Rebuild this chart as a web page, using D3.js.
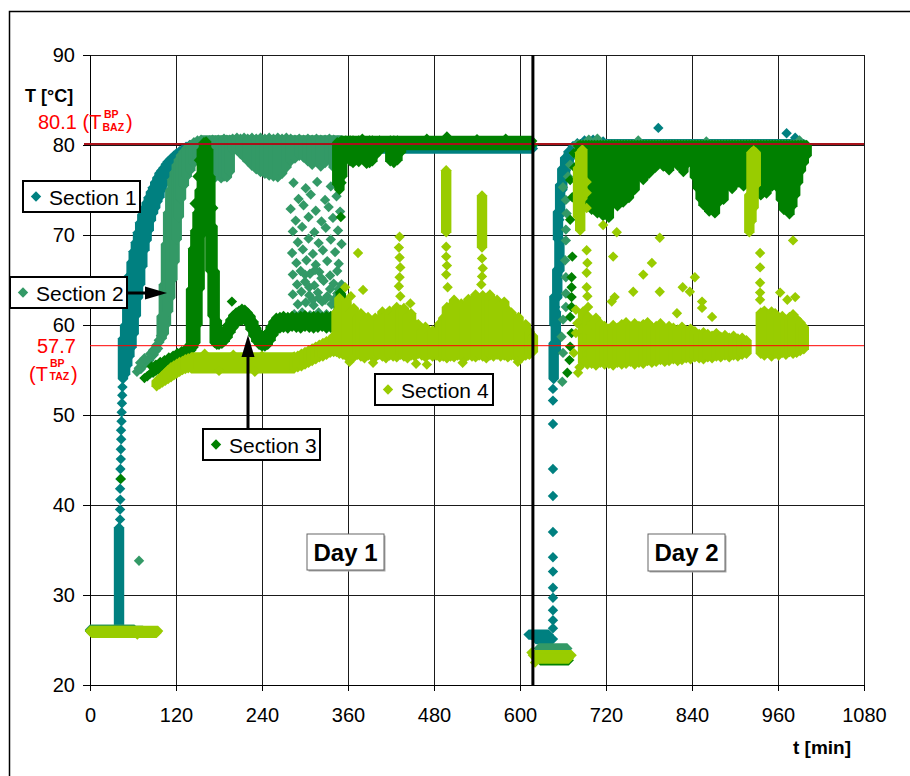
<!DOCTYPE html>
<html><head><meta charset="utf-8">
<script src="https://cdn.jsdelivr.net/npm/d3@7"></script>
<style>
body{margin:0;background:#fff}
svg{display:block}
text{font-family:"Liberation Sans",Arial,sans-serif}
</style>
</head><body>
<svg id="chart" width="910" height="776"></svg>
<script>
// ---- axis ticks ----
const xTicks = [0, 120, 240, 360, 480, 600, 720, 840, 960, 1080];
const yTicks = [20, 30, 40, 50, 60, 70, 80, 90];

// ---- reference temperatures (boiling points) ----
const refValues = [80.1, 57.7];
const dayBoundary = 618; // min, end of day 1 run

// ---- measured temperatures, t [min] / T [°C] ----
// runs: [t start, t end, T] flat stretches of dense readings
// spans: [t, T low, T high] dense vertical stacks of readings at one time
// points: [t, T] single readings

// Section 1
const s1Runs = [[0, 40, 26.05], [150, 618, 79.6], [150, 618, 79.95], [612, 640, 25.6], [622, 646, 25.1], [682, 998, 79.9], [684, 996, 80.1]];
const s1Spans = [
  [40.5, 26, 37.5],
  [46, 54, 58.5], [49, 54.5, 60], [52, 55.5, 62.5], [55, 56.5, 65.5], [58, 57.5, 67], [61, 59, 68.2], [64, 61, 69.2], [67, 63, 70.3],
  [70, 64.5, 71.4], [73, 66.5, 72.3], [76, 68.3, 73], [79, 69.4, 73.6], [82, 70.5, 74.2], [85, 71.6, 74.8], [88, 72.4, 75.3], [91, 73, 75.9],
  [94, 73.7, 76.4], [97, 74.2, 76.9], [100, 75, 77.2], [103, 75.6, 77.5], [106, 76.2, 77.9], [109, 76.8, 78.2], [113, 77.3, 78.5], [117, 77.7, 78.8],
  [121, 78.2, 79.1], [125, 78.5, 79.3], [129, 78.8, 79.5], [134, 79.1, 79.8], [139, 79.3, 80], [145, 79.5, 80.1],
  [647, 54, 58], [650, 57, 61.5], [648, 60, 63.2], [652, 63, 66.2], [655, 66, 69.6], [653, 69.5, 72.6], [656, 72.2, 75.6], [659, 75, 77.4],
  [663, 76.8, 78.6], [668, 78, 79.3], [674, 78.8, 79.9], [680, 79.4, 80.2]
];
const s1Points = [
  [42, 38.4], [42, 39.5], [42.3, 40.6], [42, 41.8], [42.5, 42.9], [42.4, 44], [43, 45.1], [43, 46.2], [43.5, 47.3], [43.3, 48.3], [44, 49.3],
  [44.2, 50.3], [44.6, 51.3], [45, 52.2], [45.3, 53.1],
  [646, 26.3], [646, 27.2], [646, 28.3], [646, 29.7], [646, 30.8], [646, 32.6], [646, 34.2], [646, 37], [646, 41], [646, 44], [646, 49],
  [646, 51.6], [646, 52.9], [651, 59.1], [649, 62], [656, 67.6], [655, 71.7], [658, 73.6], [664, 77.2],
  [690, 80.5], [702, 80.6], [716, 80.4], [793, 81.9], [972, 81.3], [984, 80.8]
];

// Section 2
const s2Runs = [[0, 62, 26.15], [155, 352, 80.5], [160, 350, 80.1], [626, 666, 24.05], [678, 998, 80.0]];
const s2Spans = [
  [100, 58.5, 61], [103, 59, 64.5], [106, 60, 69], [109, 61.5, 72.5], [112, 63, 75], [115, 65, 76.2], [118, 67, 77], [121, 69.5, 77.8],
  [124, 72, 78.4], [127, 74, 78.9], [131, 75.5, 79.3], [135, 76.5, 79.7], [140, 77.2, 80], [145, 78, 80.3], [150, 78.6, 80.5], [155, 79.1, 80.6],
  [163, 76.3, 80.4], [167, 76.2, 80.5], [171, 76.5, 80.6], [175, 76.4, 80.5], [179, 76.6, 80.6], [183, 76.3, 80.5], [187, 76.5, 80.7],
  [191, 76.4, 80.6], [195, 77, 80.6], [199, 79.5, 80.7], [205, 79.4, 80.8], [210, 79, 80.7], [215, 78.6, 80.8], [220, 78.2, 80.7],
  [226, 77.7, 80.8], [232, 77.3, 80.7], [238, 77, 80.8], [244, 76.8, 80.7], [250, 76.6, 80.8], [256, 76.5, 80.7], [262, 76.4, 80.8],
  [268, 76.8, 80.7], [274, 77.5, 80.8], [280, 78.2, 80.7], [286, 78.5, 80.6], [292, 78.8, 80.7], [298, 78.6, 80.6], [304, 78.2, 80.7],
  [310, 77.8, 80.6], [316, 78.3, 80.7], [322, 77.6, 80.6], [328, 78, 80.6], [334, 78.5, 80.7], [340, 77.5, 80.6], [346, 77, 80.5]
];
const s2Points = [
  [68.4, 33.8],
  [65.5, 54.8], [68, 55.2], [71, 55.1], [74, 55.5], [77, 55.7], [80, 56], [83, 56.1], [86, 56.5], [89, 56.7], [92, 57.1], [95, 57.4],
  [97, 58.1], [99, 58.8], [70, 55.8], [76, 56.3], [84, 56.8], [88, 57.2], [92, 57.7], [96, 58.3],
  [284, 75.8], [301, 75.2], [317, 75.9], [336, 75.4],
  [291, 74.0], [308, 74.5], [328, 73.9], [344, 74.3],
  [280, 72.9], [298, 73.3], [315, 72.7], [333, 73.1], [349, 72.6],
  [287, 71.6], [305, 72.0], [323, 71.5], [339, 71.9],
  [283, 70.4], [296, 70.9], [313, 70.3], [329, 70.8], [346, 70.5],
  [290, 69.2], [305, 69.6], [319, 69.1], [336, 69.5], [351, 69.0],
  [282, 68.0], [297, 68.4], [311, 67.9], [325, 68.3], [342, 68.1],
  [288, 66.9], [302, 67.2], [315, 66.7], [331, 67.1], [347, 66.8],
  [283, 65.6], [294, 66.0], [307, 65.7], [320, 65.9], [335, 65.5], [345, 66.0],
  [289, 64.5], [300, 64.8], [313, 64.4], [326, 64.9], [340, 64.6], [351, 64.5],
  [283, 63.4], [295, 63.7], [306, 63.3], [318, 63.6], [331, 63.2], [345, 63.5],
  [290, 62.3], [301, 62.5], [312, 62.2], [324, 62.6], [337, 62.3], [350, 62.1],
  [285, 61.2], [296, 61.4], [307, 61.1], [319, 61.4], [330, 61.2], [342, 61.3],
  [301, 60.5], [314, 60.6], [327, 60.4], [339, 60.7],
  [306, 64.2], [319, 63.0], [300, 65.6], [314, 66.1], [328, 62.8], [335, 64.0], [311, 62.8], [323, 65.2], [340, 62.8], [347, 64.0],
  [659, 53.7], [660, 56.9], [658, 58.7], [660, 60.6], [664, 62], [664, 63.5], [664, 65.3], [663, 67.2], [664, 69.4], [664, 70.6],
  [665, 72.4], [664, 73.9], [660, 75.3], [667, 76.5], [670, 77.8], [676, 79],
  [696, 80.6], [708, 80.7], [765, 80.5], [860, 80.4], [990, 80.5]
];

// Section 3
const s3Runs = [[0, 74, 26.0], [352, 617, 80.0], [350, 617, 80.45], [628, 668, 22.75], [681, 1000, 79.9]];
const s3Spans = [
  [141, 57.2, 64], [144, 57.5, 68.5], [147, 58, 70.5], [150, 60, 72.5], [153, 64, 75], [156, 70, 79.5], [159, 73, 80.3], [162, 75.5, 80.4],
  [165, 72, 79.5], [168, 66, 76.5], [171, 61, 71], [174, 58, 66], [177, 57.8, 60.5],
  [180, 57.8, 58.9], [184, 57.9, 59.1], [188, 58.2, 59.5], [192, 58.6, 60], [196, 59.2, 60.6], [200, 59.7, 61.1], [204, 60.1, 61.4],
  [208, 60.4, 61.6], [212, 60.5, 61.8], [216, 60.6, 61.7], [220, 60.2, 61.4], [224, 59.5, 61], [228, 58.8, 60.4], [232, 58.2, 59.7],
  [236, 57.8, 59.1], [240, 57.6, 58.9], [244, 57.6, 58.9], [248, 57.8, 59.2], [252, 58.3, 59.8], [256, 58.9, 60.4], [260, 59.4, 60.8],
  [265, 59.6, 60.9], [270, 59.7, 61], [276, 59.6, 60.9], [282, 59.8, 61], [288, 59.7, 60.9], [294, 59.6, 61], [300, 59.8, 61.1],
  [306, 59.7, 60.9], [312, 59.6, 61], [318, 59.7, 61], [324, 59.8, 60.9], [330, 59.6, 61], [336, 59.7, 61], [342, 59.8, 61],
  [347, 59.8, 62], [350, 60, 63.5],
  [345, 75.6, 80.3], [348, 75, 80.3], [352, 76.5, 80.4], [357, 79, 80.5], [363, 78.2, 80.5], [367, 78, 80.5], [371, 78.3, 80.4],
  [375, 78.1, 80.5], [379, 78.6, 80.5], [386, 77.9, 80.4], [390, 78, 80.5], [394, 78.2, 80.5], [398, 78.8, 80.4], [404, 79.3, 80.5],
  [419, 78.2, 80.5], [424, 78, 80.5], [429, 78.3, 80.5], [434, 79.2, 80.4], [498, 80, 80.95],
  [684, 76.5, 80], [688, 74.8, 80], [692, 73.2, 80], [696, 74.5, 80], [700, 72.8, 80], [704, 73.9, 80], [708, 72.4, 80], [712, 73.6, 80],
  [716, 72.1, 80], [720, 73.3, 80], [724, 71.9, 80], [728, 73.8, 80], [732, 74.6, 80], [736, 73.2, 80], [740, 74.8, 80], [744, 73.6, 80],
  [748, 75.2, 80], [752, 74.1, 80], [756, 75.8, 80], [760, 75.0, 80], [764, 76.4, 80], [768, 77.2, 80], [772, 76.1, 80], [776, 77.5, 80],
  [780, 76.8, 80], [784, 78.0, 80], [788, 77.4, 80], [792, 79.2, 80], [796, 78.3, 80], [800, 77.6, 80], [804, 78.5, 80], [808, 77.2, 80],
  [812, 78.0, 80], [816, 78.8, 80], [820, 77.7, 80], [824, 78.4, 80], [828, 77.0, 80], [832, 77.8, 80], [836, 78.6, 80], [840, 77.9, 80],
  [844, 76.4, 80], [848, 75.2, 80], [852, 74.0, 80], [856, 73.3, 80], [860, 74.1, 80], [864, 72.6, 80], [868, 73.2, 80], [872, 72.4, 80],
  [876, 73.5, 80], [880, 74.6, 80], [884, 73.9, 80], [888, 75.3, 80], [892, 76.0, 80], [896, 75.1, 80], [900, 76.6, 80], [904, 75.8, 80],
  [908, 76.8, 80], [912, 75.4, 80], [916, 76.2, 80], [920, 75.7, 80], [924, 76.5, 80], [928, 74.8, 80], [932, 75.6, 80], [936, 74.4, 80],
  [940, 75.9, 80], [944, 74.6, 80], [948, 76.3, 80], [952, 75.4, 80], [956, 76.7, 80], [960, 75.2, 80], [964, 73.9, 80], [968, 72.8, 80],
  [972, 73.5, 80], [976, 72.3, 80], [980, 73.2, 80], [984, 74.4, 80], [988, 75.8, 80], [992, 77.1, 80], [996, 78.0, 80], [1000, 78.8, 80]
];
const s3Points = [
  [43, 42.9],
  [76, 54.1], [80, 54.3], [84, 54.6], [88, 54.7], [92, 54.9], [96, 55], [100, 55.2], [104, 55.4], [108, 55.5], [112, 55.7], [116, 55.8],
  [120, 56.1], [124, 56.2], [128, 56.4], [132, 56.7], [136, 56.8], [140, 57.1],
  [86, 55.4], [92, 55.6], [98, 55.9], [104, 56.1], [110, 56.4], [116, 56.6], [122, 56.9], [128, 57.1], [134, 57.4], [139, 57.8],
  [198, 62.6], [146, 73.5], [150, 76.5], [152, 78.3], [168, 70.6], [170, 68.7], [172, 73],
  [349, 61.5], [349, 63.6], [350, 72], [351, 75.8], [380, 80.7], [470, 80.7], [540, 80.65], [580, 80.7],
  [666, 54.7], [669, 56.1], [670, 57.6], [672, 59.1], [670, 60.9], [672, 62], [672, 63.1], [672, 64.2], [672, 65.3], [673, 67.6],
  [670, 71.7], [673, 74.2], [670, 76.1], [675, 79.1], [676, 77.5]
];

// Section 4
const s4Runs = [[0, 95, 26.0], [2, 93, 25.8], [141, 285, 56.4], [141, 285, 55.8], [141, 285, 55.2], [618, 672, 23.3], [622, 668, 22.95]];
const s4Spans = [
  [93, 53.2, 53.8], [97, 53.4, 54.1], [101, 53.6, 54.4], [105, 53.8, 54.7], [109, 54, 55], [113, 54.2, 55.3], [117, 54.4, 55.5],
  [121, 54.6, 55.7], [125, 54.8, 55.9], [129, 55, 56], [133, 55.1, 56.2], [137, 55.2, 56.3],
  [285, 55.2, 56.5], [290, 55.3, 56.6], [295, 55.4, 56.8], [300, 55.6, 57], [305, 55.8, 57.2], [310, 56, 57.4], [315, 56.2, 57.6],
  [320, 56.4, 57.8], [325, 56.5, 58], [330, 56.7, 58.2], [335, 56.9, 58.4], [340, 57, 58.8], [344, 57, 61.5],
  [348, 56.8, 63.0], [353, 56.7, 62.2], [358, 56.5, 62.6], [363, 56.6, 61.5], [368, 56.4, 61.9], [373, 56.7, 60.9], [378, 56.5, 61.3],
  [383, 56.3, 60.4], [388, 56.6, 60.9], [393, 56.5, 60.3], [398, 56.4, 60.8], [403, 56.7, 60.5], [408, 56.5, 61.5], [413, 56.3, 61.1],
  [418, 56.6, 61.6], [423, 56.5, 61.2], [428, 56.4, 62.0], [433, 56.7, 61.7], [438, 56.5, 61.9], [443, 56.3, 61.0], [448, 56.6, 61.3],
  [453, 56.5, 60.2], [458, 56.8, 60.1], [463, 56.6, 59.4], [468, 56.4, 59.8], [473, 56.7, 59.0], [478, 56.5, 59.4], [483, 56.6, 59.1],
  [488, 56.4, 60.2], [493, 56.5, 60.8], [498, 56.3, 62.0], [503, 56.5, 62.1], [508, 56.4, 62.8], [513, 56.6, 62.2], [518, 56.5, 62.4],
  [523, 56.3, 62.0], [528, 56.6, 62.9], [533, 56.5, 62.7], [538, 56.4, 63.4], [543, 56.6, 62.8], [548, 56.5, 63.3], [553, 56.3, 63.0],
  [558, 56.6, 63.4], [563, 56.5, 62.6], [568, 56.7, 62.8], [573, 56.5, 62.3], [578, 56.6, 62.6], [583, 56.4, 61.7], [588, 56.6, 61.4],
  [593, 56.5, 60.6], [598, 56.6, 60.9], [603, 56.4, 59.9], [608, 56.6, 60.1], [613, 56.7, 59.3], [618, 57.0, 58.8],
  [497, 70.3, 77.2], [547, 68.6, 74.4],
  [681, 72, 77.5], [684, 70.5, 79.2], [687, 74, 79.5],
  [688, 55.8, 61.5], [694, 55.6, 61.0], [700, 55.7, 60.4], [706, 55.5, 60.8], [712, 55.8, 60.2], [718, 55.6, 59.9], [724, 55.7, 59.6],
  [730, 55.5, 60.0], [736, 55.8, 59.7], [742, 55.6, 60.1], [748, 55.7, 60.3], [754, 55.9, 59.8], [760, 55.6, 60.2], [766, 55.8, 59.9],
  [772, 55.7, 60.1], [778, 56.0, 60.3], [784, 55.8, 59.8], [790, 55.9, 59.9], [796, 56.1, 60.2], [802, 55.9, 59.6], [808, 56.0, 59.9],
  [814, 56.2, 59.7], [820, 56.0, 59.5], [826, 56.1, 59.8], [832, 56.3, 59.4], [838, 56.2, 59.6], [844, 56.4, 59.3], [850, 56.3, 59.0],
  [856, 56.2, 59.2], [862, 56.4, 59.0], [868, 56.3, 58.8], [874, 56.5, 59.1], [880, 56.4, 58.7], [886, 56.6, 58.9], [892, 56.4, 58.6],
  [898, 56.6, 58.8], [904, 56.5, 58.5], [910, 56.7, 58.6], [916, 56.8, 58.3],
  [920, 70.3, 74.5], [923, 71.5, 79.2], [926, 73, 79.4], [929, 75.5, 79.2],
  [936, 56.8, 61.4], [941, 56.6, 61.6], [946, 56.9, 61.2], [951, 56.5, 61.5], [956, 56.8, 61.3], [961, 56.6, 60.8], [966, 56.9, 61.0],
  [971, 56.7, 60.6], [976, 57.0, 60.9], [981, 56.8, 61.2], [986, 56.9, 60.7], [991, 57.1, 60.3], [996, 57.3, 59.8]
];
const s4Points = [
  [66, 25.6],
  [160, 56.8], [200, 56.7], [240, 56.6], [180, 54.9], [230, 54.8],
  [395, 55.8], [455, 55.7], [470, 55.6], [520, 55.8], [597, 55.9], [362, 55.9],
  [432, 69.8], [431, 68.6], [432, 67.5], [433, 66.4], [432, 65.3], [431, 64.3], [433, 63.2],
  [497, 68.7], [497, 67.6], [498, 66.6], [497, 65.6], [499, 64.2],
  [547, 67.4], [548, 66.3], [547, 65.4], [546, 64.5],
  [374, 68], [356, 64.2], [381, 63.9], [447, 62.4], [364, 63.2],
  [616, 23.6], [621, 22.5],
  [693, 68.3], [694, 66.9], [693, 65.8], [693, 64.2], [694, 63.2], [695, 62], [696, 60.9], [693, 59.5], [689, 57.5], [690, 56],
  [683, 55.3], [681, 54.7], [678, 61.7], [680, 60.2], [678, 59.1], [675, 56.9], [693, 73], [693, 74.7], [693, 75.9],
  [716, 71.1], [735, 70.3], [730, 67.6], [795, 69.7], [784, 66.9], [772, 65.6], [758, 63.7], [795, 63.7], [732, 63.1], [728, 62.6],
  [827, 64.2], [837, 63.7], [844, 65.3], [854, 62.6], [854, 61.9], [868, 60.9], [819, 61.3],
  [935, 68], [935, 66.4], [935, 64.7], [935, 63.6], [935, 62.8],
  [981, 69.4], [963, 63.6], [973, 62.8], [984, 63.1]
];

const series = [
  {name: "Section 1", color: "#008080", runs: s1Runs, spans: s1Spans, points: s1Points},
  {name: "Section 2", color: "#339966", runs: s2Runs, spans: s2Spans, points: s2Points},
  {name: "Section 3", color: "#008000", runs: s3Runs, spans: s3Spans, points: s3Points},
  {name: "Section 4", color: "#99cc00", runs: s4Runs, spans: s4Spans, points: s4Points}
];

// ---- layout ----
const plot = {left: 90, right: 864, top: 55, bottom: 685};
const R = 5.2; // half diagonal of a diamond marker

const svg = d3.select("#chart");
const x = d3.scaleLinear().domain([0, 1080]).range([plot.left, plot.right]);
const y = d3.scaleLinear().domain([20, 90]).range([plot.bottom, plot.top]);

// outer frame
svg.append("rect").attr("x", 9.5).attr("y", 11.5).attr("width", 1000).attr("height", 1000)
  .attr("fill", "#fff").attr("stroke", "#000").attr("stroke-width", 1.5);

// grid
const grid = svg.append("g").attr("shape-rendering", "crispEdges");
grid.append("g").attr("transform", `translate(0,${plot.bottom})`)
  .call(d3.axisBottom(x).tickValues(xTicks).tickSize(-(plot.bottom - plot.top)).tickFormat(""))
  .call(g => g.select(".domain").remove())
  .call(g => g.selectAll("line").attr("stroke", "#1a1a1a"));
grid.append("g").attr("transform", `translate(${plot.left},0)`)
  .call(d3.axisLeft(y).tickValues(yTicks).tickSize(-(plot.right - plot.left)).tickFormat(""))
  .call(g => g.select(".domain").remove())
  .call(g => g.selectAll("line").attr("stroke", "#1a1a1a"));

// axes
const xAxis = svg.append("g").attr("transform", `translate(0,${plot.bottom})`)
  .call(d3.axisBottom(x).tickValues(xTicks).tickFormat(d3.format("d")).tickSize(6).tickPadding(17))
  .call(g => g.select(".domain").attr("stroke", "#000"))
  .call(g => g.selectAll("line").attr("stroke", "#000"));
xAxis.selectAll("text").attr("font-size", 20).attr("fill", "#000")
  .style("font-family", '"Liberation Sans",Arial,sans-serif');
const yAxis = svg.append("g").attr("transform", `translate(${plot.left},0)`)
  .call(d3.axisLeft(y).tickValues(yTicks).tickFormat(d3.format("d")).tickSize(7).tickPadding(8))
  .call(g => g.select(".domain").attr("stroke", "#000"))
  .call(g => g.selectAll("line").attr("stroke", "#000"));
yAxis.selectAll("text").attr("font-size", 20).attr("fill", "#000")
  .style("font-family", '"Liberation Sans",Arial,sans-serif');

// marker geometry
const diamondPath = ([t, v]) => {
  const cx = x(t), cy = y(v);
  return `M${cx},${cy - R}L${cx + R},${cy}L${cx},${cy + R}L${cx - R},${cy}Z`;
};
const spanPath = ([t, lo, hi]) => {
  const cx = x(t), yt = y(hi), yb = y(lo);
  return `M${cx},${yt - R}L${cx + R},${yt}L${cx + R},${yb}L${cx},${yb + R}L${cx - R},${yb}L${cx - R},${yt}Z`;
};
const runPath = ([t0, t1, v]) => {
  const xl = x(t0), xr = x(t1), cy = y(v);
  return `M${xl - R},${cy}L${xl},${cy - R}L${xr},${cy - R}L${xr + R},${cy}L${xr},${cy + R}L${xl},${cy + R}Z`;
};

// data
const marks = svg.append("g");
series.forEach(s => {
  const g = marks.append("g").attr("fill", s.color);
  g.selectAll(null).data(s.runs).join("path").attr("d", runPath);
  g.selectAll(null).data(s.spans).join("path").attr("d", spanPath);
  g.selectAll(null).data(s.points).join("path").attr("d", diamondPath);
});

// boiling point lines
svg.append("line").attr("x1", plot.left - 6).attr("x2", plot.right)
  .attr("y1", y(refValues[0])).attr("y2", y(refValues[0]))
  .attr("stroke", "#a8121a").attr("stroke-width", 2);
svg.append("line").attr("x1", plot.left).attr("x2", plot.right)
  .attr("y1", y(refValues[1])).attr("y2", y(refValues[1]))
  .attr("stroke", "#ff0000").attr("stroke-width", 1);

// day separator
svg.append("line").attr("x1", x(dayBoundary)).attr("x2", x(dayBoundary))
  .attr("y1", y(90)).attr("y2", y(20)).attr("stroke", "#000").attr("stroke-width", 3);

// axis titles
svg.append("text").attr("x", 25).attr("y", 102).attr("font-size", 18).attr("font-weight", "bold").text("T [°C]");
svg.append("text").attr("x", 851).attr("y", 754).attr("text-anchor", "end").attr("font-size", 19).attr("font-weight", "bold").text("t [min]");

// boiling point labels (one text element per line, with stacked super/subscripts)
const red = "#ff0000";
const bp1 = svg.append("text").attr("x", 38).attr("y", 129).attr("font-size", 20).attr("fill", red);
bp1.append("tspan").text(`${refValues[0]} (T`);
bp1.append("tspan").attr("x", 104).attr("y", 118).attr("font-size", 10.5).attr("font-weight", "bold").text("BP");
bp1.append("tspan").attr("x", 102.5).attr("y", 130.5).attr("font-size", 10.5).attr("font-weight", "bold").text("BAZ");
bp1.append("tspan").attr("x", 126).attr("y", 129).text(")");

svg.append("text").attr("x", 37).attr("y", 353).attr("font-size", 20).attr("fill", red).text(`${refValues[1]}`);
const bp2 = svg.append("text").attr("x", 29).attr("y", 381).attr("font-size", 20).attr("fill", red);
bp2.append("tspan").text("(T");
bp2.append("tspan").attr("x", 50).attr("y", 367).attr("font-size", 10.5).attr("font-weight", "bold").text("BP");
bp2.append("tspan").attr("x", 49.5).attr("y", 380).attr("font-size", 10.5).attr("font-weight", "bold").text("TAZ");
bp2.append("tspan").attr("x", 71).attr("y", 381).text(")");

// series labels
const labelBoxes = [
  {x: 23, y: 181, w: 117, h: 31},
  {x: 10, y: 277, w: 117, h: 31},
  {x: 203, y: 429, w: 117, h: 31},
  {x: 375, y: 374, w: 118, h: 31}
];
series.forEach((s, i) => {
  const b = labelBoxes[i];
  const g = svg.append("g");
  g.append("rect").attr("x", b.x).attr("y", b.y).attr("width", b.w).attr("height", b.h)
    .attr("fill", "#fff").attr("stroke", "#000").attr("stroke-width", 2);
  const cx = b.x + 13, cy = b.y + b.h / 2;
  g.append("path").attr("d", `M${cx},${cy - R}L${cx + R},${cy}L${cx},${cy + R}L${cx - R},${cy}Z`).attr("fill", s.color);
  g.append("text").attr("x", b.x + 26).attr("y", cy + 8).attr("font-size", 21).text(s.name);
});

// pointers
svg.append("line").attr("x1", 127).attr("x2", 148).attr("y1", 293).attr("y2", 293).attr("stroke", "#000").attr("stroke-width", 3);
svg.append("path").attr("d", "M145,286.5L167,293L145,299.5Z").attr("fill", "#000");
svg.append("line").attr("x1", 248).attr("x2", 248).attr("y1", 429).attr("y2", 352).attr("stroke", "#000").attr("stroke-width", 3);
svg.append("path").attr("d", "M241.5,357L248,335L254.5,357Z").attr("fill", "#000");

// day labels
const dayBoxes = [
  {x: 307, y: 534, w: 77, h: 36, text: "Day 1"},
  {x: 648, y: 534, w: 77, h: 37, text: "Day 2"}
];
dayBoxes.forEach(d => {
  svg.append("rect").attr("x", d.x + 1.5).attr("y", d.y + 1.5).attr("width", d.w).attr("height", d.h).attr("fill", "#aaa");
  svg.append("rect").attr("x", d.x).attr("y", d.y).attr("width", d.w).attr("height", d.h)
    .attr("fill", "#fff").attr("stroke", "#666").attr("stroke-width", 1);
  svg.append("text").attr("x", d.x + d.w / 2).attr("y", d.y + 27).attr("text-anchor", "middle")
    .attr("font-size", 24).attr("font-weight", "bold").text(d.text);
});
</script>
</body></html>
